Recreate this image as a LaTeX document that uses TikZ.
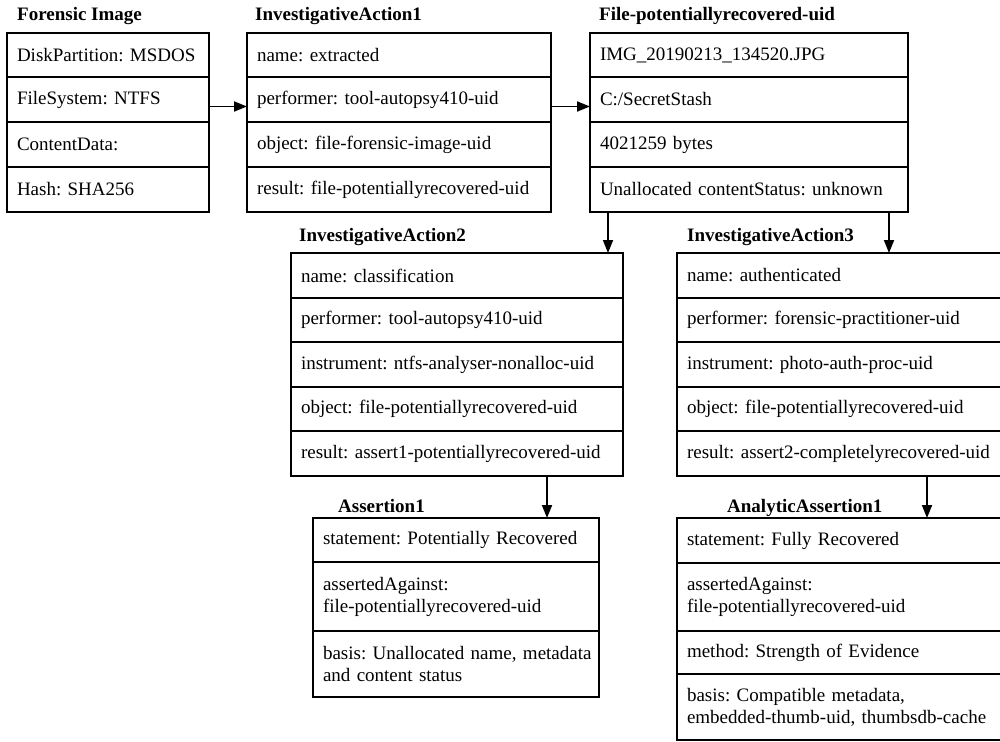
\documentclass[tikz,border=0pt]{standalone}
\usepackage{fontspec}
\setmainfont{Liberation Serif}
\usepackage{tikz}
\usetikzlibrary{arrows.meta}
\frenchspacing
\hyphenpenalty=10000

\begin{document}
\begin{tikzpicture}[x=1pt,y=-1pt,
	cell/.style={draw,line width=1.8pt,outer sep=0pt,anchor=north west,align=left,inner xsep=10pt,inner ysep=2pt,font=\fontsize{19pt}{22pt}\selectfont},
	heading/.style={anchor=base west,inner sep=0pt,font=\fontsize{19pt}{22pt}\selectfont\bfseries},
	arr/.style={line width=1.8pt,-{Triangle[length=13pt,width=10pt]}}]
	
	\path[use as bounding box] (0,0) rectangle (1000,741);
	\clip (0,0) rectangle (1000,741);

	% Forensic Image
	\node[heading] (imgt) at (17,21) {Forensic Image};
	\node[cell,text width=182pt,minimum height=44pt] (img1) at (7,33) {DiskPartition: MSDOS};
	\node[cell,text width=182pt,minimum height=45pt] (img2) at (img1.south west) {FileSystem: NTFS};
	\node[cell,text width=182pt,minimum height=45pt] (img3) at (img2.south west) {ContentData:};
	\node[cell,text width=182pt,minimum height=45pt] (img4) at (img3.south west) {Hash: SHA256};

	% InvestigativeAction1
	\node[heading] (act1t) at (255,21) {InvestigativeAction1};
	\node[cell,text width=284pt,minimum height=44pt] (act1a) at (247,33) {name: extracted};
	\node[cell,text width=284pt,minimum height=45pt] (act1b) at (act1a.south west) {performer: tool-autopsy410-uid};
	\node[cell,text width=284pt,minimum height=45pt] (act1c) at (act1b.south west) {object: file-forensic-image-uid};
	\node[cell,text width=284pt,minimum height=45pt] (act1d) at (act1c.south west) {result: file-potentiallyrecovered-uid};

	% File-potentiallyrecovered-uid
	\node[heading] (filet) at (599,21) {File-potentiallyrecovered-uid};
	\node[cell,text width=298pt,minimum height=44pt] (file1) at (590,33) {IMG\_20190213\_134520.JPG};
	\node[cell,text width=298pt,minimum height=45pt] (file2) at (file1.south west) {C:/SecretStash};
	\node[cell,text width=298pt,minimum height=45pt] (file3) at (file2.south west) {4021259 bytes};
	\node[cell,text width=298pt,minimum height=45pt] (file4) at (file3.south west) {Unallocated contentStatus: unknown};

	% InvestigativeAction2
	\node[heading] (act2t) at (299,241) {InvestigativeAction2};
	\node[cell,text width=312pt,minimum height=45pt] (act2a) at (291,253) {name: classification};
	\node[cell,text width=312pt,minimum height=44pt] (act2b) at (act2a.south west) {performer: tool-autopsy410-uid};
	\node[cell,text width=312pt,minimum height=45pt] (act2c) at (act2b.south west) {instrument: ntfs-analyser-nonalloc-uid};
	\node[cell,text width=312pt,minimum height=44pt] (act2d) at (act2c.south west) {object: file-potentiallyrecovered-uid};
	\node[cell,text width=312pt,minimum height=45pt] (act2e) at (act2d.south west) {result: assert1-potentiallyrecovered-uid};

	% InvestigativeAction3
	\node[heading] (act3t) at (687,241) {InvestigativeAction3};
	\node[cell,text width=320pt,minimum height=45pt] (act3a) at (677,253) {name: authenticated};
	\node[cell,text width=320pt,minimum height=44pt] (act3b) at (act3a.south west) {performer: forensic-practitioner-uid};
	\node[cell,text width=320pt,minimum height=45pt] (act3c) at (act3b.south west) {instrument: photo-auth-proc-uid};
	\node[cell,text width=320pt,minimum height=44pt] (act3d) at (act3c.south west) {object: file-potentiallyrecovered-uid};
	\node[cell,text width=320pt,minimum height=45pt] (act3e) at (act3d.south west) {result: assert2-completelyrecovered-uid};

	% Assertion1
	\node[heading] (asrt) at (338,512) {Assertion1};
	\node[cell,text width=266pt,minimum height=44pt] (asr1) at (313,518) {statement: Potentially Recovered};
	\node[cell,text width=266pt,minimum height=69pt] (asr2) at (asr1.south west) {assertedAgainst:\\file-potentiallyrecovered-uid};
	\node[cell,text width=266pt,minimum height=66pt] (asr3) at (asr2.south west) {\mbox{basis: Unallocated name, metadata}\\and content status};

	% AnalyticAssertion1
	\node[heading] (anat) at (727,512) {AnalyticAssertion1};
	\node[cell,text width=320pt,minimum height=45pt] (ana1) at (677,518) {statement: Fully Recovered};
	\node[cell,text width=320pt,minimum height=68pt] (ana2) at (ana1.south west) {assertedAgainst:\\file-potentiallyrecovered-uid};
	\node[cell,text width=320pt,minimum height=43pt] (ana3) at (ana2.south west) {method: Strength of Evidence};
	\node[cell,text width=320pt,minimum height=66pt] (ana4) at (ana3.south west) {basis: Compatible metadata,\\embedded-thumb-uid, thumbsdb-cache};

	\draw[arr] ([yshift=-7pt]img2.east) -- ([yshift=-7pt]img2.east -| act1b.west);
	\draw[arr] ([yshift=-7pt]act1b.east) -- ([yshift=-7pt]act1b.east -| file2.west);
	\draw[arr] ([xshift=18pt]file4.south west) -- ([xshift=18pt]file4.south west |- act2a.north);
	\draw[arr] ([xshift=-19pt]file4.south east) -- ([xshift=-19pt]file4.south east |- act3a.north);
	\draw[arr] ([xshift=-76pt]act2e.south east) -- ([xshift=-76pt]act2e.south east |- asr1.north);
	\draw[arr] ([xshift=250pt]act3e.south west) -- ([xshift=250pt]act3e.south west |- ana1.north);

\end{tikzpicture}
\end{document}
